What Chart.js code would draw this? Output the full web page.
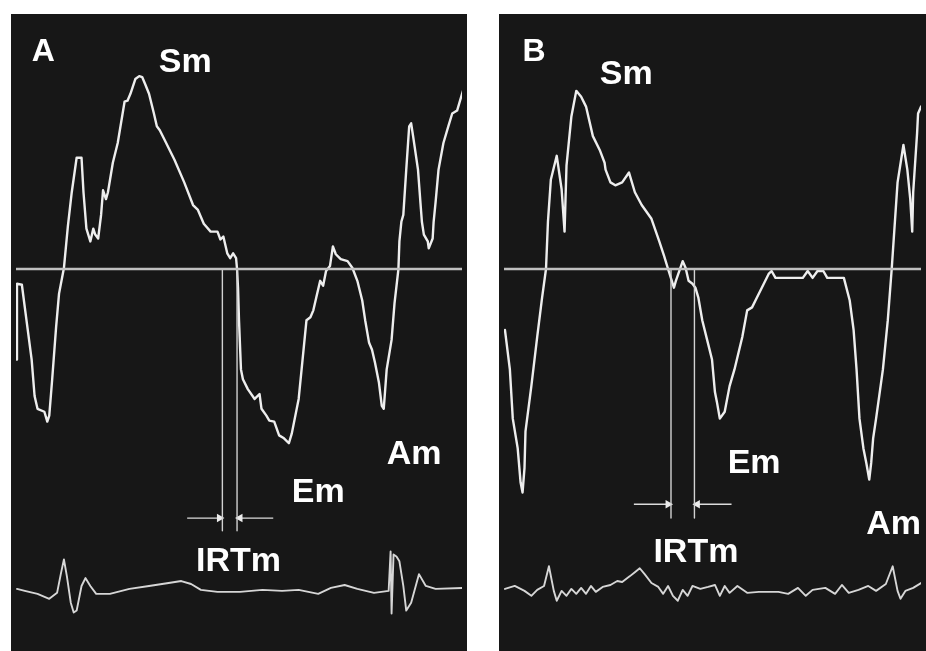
<!DOCTYPE html>
<html>
<head>
<meta charset="utf-8">
<script src="https://cdn.jsdelivr.net/npm/chart.js@4.4.1/dist/chart.umd.min.js"></script>
<style>
  body { margin: 0; background: #ffffff; width: 926px; height: 651px; overflow: hidden; }
  canvas { position: absolute; display: block; }
  #panelA { left: 11px; top: 14px; }
  #panelB { left: 499px; top: 14px; }
</style>
</head>
<body>
<canvas id="panelA" width="456" height="637"></canvas>
<canvas id="panelB" width="427" height="637"></canvas>
<script>
// ── Tissue Doppler traces (t = time units from panel start, v = cm/s) ──
const aTime = [1, 1, 6, 9, 16, 19, 22, 29, 32, 34, 37, 41, 44, 49, 53, 57, 62, 67, 69, 72, 76, 79, 81, 84, 87, 89, 92, 94, 99, 104,
  111, 114, 117, 122, 126, 129, 132, 136, 141, 144, 147, 152, 162, 172, 181, 186, 192, 199, 206, 209, 212, 216, 219, 222, 225, 226,
  227, 228, 230, 232, 237, 244, 249, 251, 256, 259, 264, 269, 274, 279, 282, 289, 292, 297, 301, 304, 307, 311, 314, 317, 321, 324,
  327, 332, 339, 344, 349, 354, 357, 361, 364, 367, 371, 374, 376, 379, 384, 387, 391, 392, 394, 396, 399, 402, 404, 406, 411, 414,
  415, 417, 421, 422, 426, 427, 429, 432, 437, 442, 446, 451, 454, 457];
const aVel = [-4.6, -0.75, -0.8, -1.95, -4.6, -6.45, -7.1, -7.25, -7.75, -7.45, -5.6, -2.95, -1.25, 0.05, 2.15, 3.9, 5.65, 5.65, 3.9, 2.05, 1.4, 2.05, 1.75, 1.55, 2.75, 4.0, 3.55, 3.9, 5.4, 6.4,
  8.5, 8.55, 8.9, 9.65, 9.8, 9.75, 9.4, 8.9, 7.9, 7.25, 7.05, 6.55, 5.55, 4.4, 3.25, 3.0, 2.3, 1.9, 1.9, 1.5, 1.65, 0.8, 0.55, 0.8, 0.55, 0,
  -0.95, -2.6, -5.1, -5.6, -6.1, -6.6, -6.35, -7.1, -7.45, -7.7, -7.75, -8.45, -8.6, -8.85, -8.35, -6.6, -5.1, -2.6, -2.45, -2.1, -1.45, -0.6, -0.85, -0.1, 0.15, 1.15,
  0.75, 0.5, 0.4, 0.05, -0.6, -1.6, -2.6, -3.75, -4.1, -4.75, -5.75, -6.95, -7.1, -5.1, -3.6, -1.75, 0, 1.4, 2.4, 2.75, 5.05, 7.25, 7.4, 6.75, 5.05, 3.05,
  2.4, 1.75, 1.4, 1.05, 1.55, 2.4, 3.4, 5.05, 6.4, 7.25, 7.9, 8.05, 8.55, 9.05];

const bTime = [1, 6, 9, 14, 17, 19, 21, 22, 28, 34, 39, 43, 45, 48, 54, 59, 62, 64, 69, 74, 79, 84, 91, 98, 103, 104, 109, 114, 121, 128,
  134, 141, 151, 159, 164, 168, 174, 176, 183, 186, 189, 193, 196, 199, 203, 208, 213, 216, 218, 221, 226, 231, 236, 244, 249, 254, 259, 264, 271, 274,
  278, 306, 311, 316, 321, 327, 331, 348, 354, 358, 361, 364, 368, 371, 374, 376, 378, 381, 388, 393, 397, 403, 409, 413, 416, 418, 419, 423, 424, 427];
const bVel = [-3.1, -5.1, -7.6, -9.1, -10.85, -11.35, -10.1, -8.25, -5.95, -3.45, -1.45, 0, 2.4, 4.55, 5.75, 4.05, 1.9, 5.25, 7.75, 9.05, 8.75, 8.25, 6.75, 6.05, 5.4, 5.05, 4.4, 4.25, 4.4, 4.9,
  3.9, 3.25, 2.55, 1.4, 0.65, 0, -0.95, -0.6, 0.4, 0.05, -0.6, -0.75, -0.95, -1.45, -2.6, -3.6, -4.6, -6.25, -6.75, -7.6, -7.25, -5.95, -5.1, -3.45, -2.1, -1.95, -1.45, -0.95, -0.25, -0.1,
  -0.45, -0.45, -0.1, -0.45, -0.1, -0.1, -0.45, -0.45, -1.6, -3.1, -5.1, -7.6, -9.1, -9.85, -10.7, -9.85, -8.6, -7.6, -5.1, -2.6, 0, 4.4, 6.3, 5.05, 3.55, 1.9, 3.9, 6.9, 7.9, 8.25];

// ── ECG traces (mV) ──
const aEcgTime = [1, 9, 22, 34, 42, 46, 49, 52, 56, 59, 62, 67, 71, 76, 82, 96, 116, 136, 156, 169, 179, 189, 206, 229, 252, 272, 289,
  309, 322, 336, 349, 366, 381, 383, 384, 386, 389, 392, 396, 399, 404, 412, 419, 429, 456];
const aEcg = [0.025, -0.025, -0.1, -0.225, -0.075, 0.425, 0.775, 0.35, -0.325, -0.575, -0.525, 0.1, 0.3, 0.1, -0.1, -0.1, 0.025, 0.1, 0.175, 0.225, 0.15, 0, -0.05, -0.05, 0, -0.025, 0,
  -0.1, 0.05, 0.125, 0.025, -0.075, -0.025, 0.975, -0.6, 0.9, 0.85, 0.725, 0.1, -0.525, -0.325, 0.4, 0.1, 0.025, 0.05];

const bEcgTime = [1, 11, 21, 28, 34, 41, 46, 51, 54, 59, 64, 69, 74, 79, 84, 89, 94, 101, 109, 116, 121, 129, 134, 139, 144, 151, 158, 163,
  168, 173, 178, 183, 188, 193, 201, 209, 216, 221, 226, 231, 239, 249, 261, 281, 291, 301, 309, 316, 329, 339, 346, 353, 363, 373, 381,
  391, 398, 403, 406, 411, 419, 427];
const bEcg = [0.025, 0.1, -0.025, -0.15, 0, 0.1, 0.6, -0.025, -0.275, -0.025, -0.15, 0.025, -0.1, 0.05, -0.1, 0.1, -0.05, 0.075, 0.125, 0.225, 0.2, 0.35, 0.45, 0.55, 0.4, 0.175, 0.075, -0.1,
  0.1, -0.15, -0.275, 0, -0.15, 0.1, 0.025, 0.075, 0.125, -0.15, 0.1, -0.075, 0.1, -0.075, -0.05, -0.05, -0.1, 0.05, -0.15, 0, 0.05, -0.1, 0.125, -0.075, 0, 0.1, -0.025,
  0.15, 0.6, -0.025, -0.225, -0.025, 0.05, 0.175];

// ── IRTm markers: [start, end] of the interval, depth of the lines, arrow level, arrow tails ──
const irtA = [211, 226];
const irtDepthA = -13.3;
const irtArrowA = -12.65;
const irtTailsA = [175, 263];
const irtB = [171, 195];
const irtDepthB = -12.65;
const irtArrowB = -11.95;
const irtTailsB = [133, 233];

// ── Labels ──
const labelsA = ['A', 'Sm', 'Em', 'Am', 'IRTm'];
const labelATime = [16, 146, 282, 379, 184];
const labelAVel = [10.55, 10.0, -11.85, -9.9, -15.35];
const labelsB = ['B', 'Sm', 'Em', 'Am', 'IRTm'];
const labelBTime = [19, 98, 229, 371, 153];
const labelBVel = [10.55, 9.4, -10.35, -13.45, -14.9];

// ── Panel extents ──
const timeMaxA = 456;
const timeMaxB = 427;
const velRange = [-19.15, 12.7];
const ecgRange = [-1.425, 14.5];

const zip = (xs, ys) => xs.map((x, i) => ({ x, y: ys[i] }));

const panelBackground = {
    id: 'panelBackground',
    beforeDraw(chart) {
        const { ctx, width, height } = chart;
        ctx.save();
        ctx.fillStyle = '#171717';
        ctx.fillRect(0, 0, width, height);
        ctx.restore();
    }
};

const panelText = {
    id: 'panelText',
    afterDatasetsDraw(chart, args, opts) {
        const { ctx, scales } = chart;
        ctx.save();
        ctx.fillStyle = '#ffffff';
        ctx.textBaseline = 'alphabetic';
        ctx.textAlign = 'left';
        opts.labels.forEach((txt, i) => {
            ctx.font = txt.length === 1 ? "bold 32px 'Liberation Sans', Arial, sans-serif"
                                         : "bold 34px 'Liberation Sans', Arial, sans-serif";
            ctx.fillText(txt, scales.x.getPixelForValue(opts.times[i]), scales.y.getPixelForValue(opts.vels[i]));
        });
        ctx.restore();
    }
};

function makePanel(canvasId, p) {
    const line = (data, color, width, extra = {}) => Object.assign({
        data, borderColor: color, borderWidth: width, pointRadius: 0, tension: 0, fill: false,
        borderJoinStyle: 'round', borderCapStyle: 'round'
    }, extra);
    const arrow = (from, to, rot) => line(
        [{ x: from, y: p.arrowLevel }, { x: to, y: p.arrowLevel }], '#dcdcdc', 1.3,
        { pointRadius: [0, 5], pointStyle: 'triangle', rotation: rot, borderCapStyle: 'butt',
          pointBackgroundColor: '#ececec', pointBorderColor: '#ececec', pointBorderWidth: 0 }
    );

    return new Chart(document.getElementById(canvasId), {
        type: 'line',
        data: {
            datasets: [
                line([{ x: 0, y: 0 }, { x: p.timeMax, y: 0 }], '#c0c0c0', 2.5, { borderCapStyle: 'butt' }),
                line([{ x: p.irt[0], y: 0 }, { x: p.irt[0], y: p.irtDepth }], '#d2d2d2', 1.4, { borderCapStyle: 'butt' }),
                line([{ x: p.irt[1], y: 0 }, { x: p.irt[1], y: p.irtDepth }], '#d2d2d2', 1.4, { borderCapStyle: 'butt' }),
                arrow(p.tails[0], p.irt[0] - 3, 90),
                arrow(p.tails[1], p.irt[1] + 3, -90),
                line(zip(p.ecgTime, p.ecg), '#d6d6d6', 1.9, { yAxisID: 'ecg' }),
                line(zip(p.time, p.vel), '#eeeeee', 2.4)
            ]
        },
        options: {
            responsive: false,
            animation: false,
            layout: { padding: 0 },
            plugins: {
                legend: { display: false },
                tooltip: { enabled: false },
                panelText: { labels: p.labels, times: p.labelTime, vels: p.labelVel }
            },
            scales: {
                x: { type: 'linear', min: 0, max: p.timeMax, display: false },
                y: { min: velRange[0], max: velRange[1], display: false },
                ecg: { position: 'right', min: ecgRange[0], max: ecgRange[1], display: false }
            }
        },
        plugins: [panelBackground, panelText]
    });
}

makePanel('panelA', {
    time: aTime, vel: aVel, ecgTime: aEcgTime, ecg: aEcg, timeMax: timeMaxA,
    irt: irtA, irtDepth: irtDepthA, arrowLevel: irtArrowA, tails: irtTailsA,
    labels: labelsA, labelTime: labelATime, labelVel: labelAVel
});
makePanel('panelB', {
    time: bTime, vel: bVel, ecgTime: bEcgTime, ecg: bEcg, timeMax: timeMaxB,
    irt: irtB, irtDepth: irtDepthB, arrowLevel: irtArrowB, tails: irtTailsB,
    labels: labelsB, labelTime: labelBTime, labelVel: labelBVel
});
</script>
</body>
</html>
